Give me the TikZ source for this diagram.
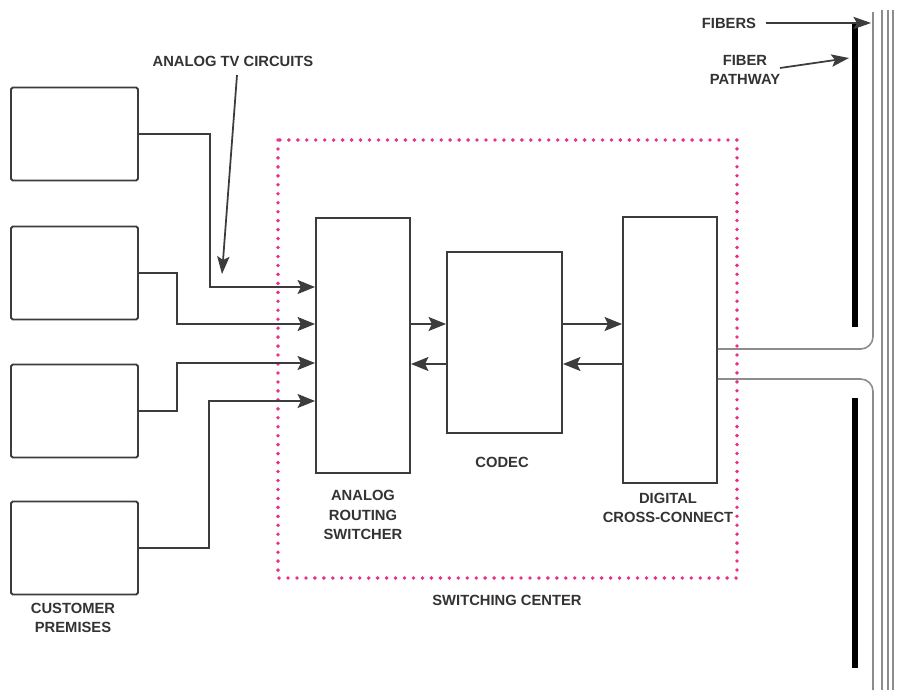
\documentclass[tikz,border=0pt]{standalone}
\usepackage{fontspec}
\setmainfont{Liberation Sans}
\usepackage{tikz}
\usetikzlibrary{arrows.meta}
\definecolor{linegray}{RGB}{60,60,60}
\definecolor{fibergray}{RGB}{140,140,140}
\definecolor{centerpink}{RGB}{232,48,138}
\tikzset{
  custbox/.style={draw=linegray, line width=1.1pt, rounded corners=1pt,
    minimum width=2.54cm, minimum height=1.86cm, inner sep=0pt},
  unitbox/.style={draw=linegray, line width=1.1pt, inner sep=0pt},
  lbl/.style={font=\fontsize{8.4}{11.2}\selectfont\bfseries,
    text=black!80, align=center, inner sep=1pt},
  feed/.style={draw=linegray, line width=1pt,
    -{Stealth[length=10pt,width=8pt,inset=2pt]}},
  wire/.style={draw=linegray, line width=1pt},
  pointer/.style={draw=linegray, line width=1pt,
    -{Stealth[length=10pt,width=7pt,inset=2pt]}},
  fiber/.style={draw=fibergray, line width=0.9pt},
  pathway/.style={draw=black, line width=3.4pt},
  centerline/.style={draw=centerpink, line width=2.2pt, line cap=round,
    dash pattern=on 0pt off 5.1pt},
}

\begin{document}
\begin{tikzpicture}[x=0.02cm, y=-0.02cm]
  \useasboundingbox (0,0) rectangle (911,690);

  % Switching center outline
  \draw[centerline] (278,140) rectangle (737,578);
  \node[lbl] (centerlabel) at (507,600) {SWITCHING CENTER};

  % Customer premises
  \node[custbox] (cust1) at (74.5,134) {};
  \node[custbox] (cust2) at (74.5,273) {};
  \node[custbox] (cust3) at (74.5,411) {};
  \node[custbox] (cust4) at (74.5,548) {};
  \node[lbl] (custlabel) at (73,618) {CUSTOMER\\PREMISES};

  % Switching equipment
  \node[unitbox, minimum width=1.88cm, minimum height=5.1cm]
    (router) at (363,345.5) {};
  \node[unitbox, minimum width=2.3cm, minimum height=3.62cm]
    (codec) at (504.5,342.5) {};
  \node[unitbox, minimum width=1.88cm, minimum height=5.32cm]
    (dcs) at (670,350) {};
  \node[lbl] (routerlabel) at (363,515) {ANALOG\\ROUTING\\SWITCHER};
  \node[lbl] (codeclabel) at (502,462) {CODEC};
  \node[lbl] (dcslabel) at (668,508) {DIGITAL\\CROSS-CONNECT};

  % Analog TV circuits into the router
  \draw[feed] (cust1.east) -| (210,287) -- (router.west |- 0,287);
  \draw[feed] (cust2.east) -| (177,324) -- (router.west |- 0,324);
  \draw[feed] (cust3.east) -| (177,363) -- (router.west |- 0,363);
  \draw[feed] (cust4.east) -| (209,401) -- (router.west |- 0,401);

  \node[lbl] (tvlabel) at (233,61) {ANALOG TV CIRCUITS};
  \coordinate (tvtip) at (222,274);
  \draw[pointer] (237,75) -- (tvtip);

  % Router <-> codec <-> cross-connect
  \draw[feed] (router.east |- 0,324) -- (codec.west |- 0,324);
  \draw[feed] (codec.west |- 0,364) -- (router.east |- 0,364);
  \draw[feed] (codec.east |- 0,324) -- (dcs.west |- 0,324);
  \draw[feed] (dcs.west |- 0,364) -- (codec.east |- 0,364);

  % Fibers
  \draw[fiber, rounded corners=7pt] (dcs.east |- 0,349) -| (873,12);
  \draw[fiber, rounded corners=7pt] (dcs.east |- 0,379) -| (873,690);
  \foreach \fx in {882,888,893}
    \draw[fiber] (\fx,10) -- (\fx,690);

  % Fiber pathway
  \draw[pathway] (855,22) -- (855,327);
  \draw[pathway] (855,398) -- (855,668);

  \node[lbl] (fiberslabel) at (729,23) {FIBERS};
  \coordinate (fibertip) at (871,23);
  \draw[pointer] (fiberslabel.east) ++(8,0) -- (fibertip);

  \node[lbl] (pathlabel) at (745,70) {FIBER\\PATHWAY};
  \coordinate (pathtip) at (849,58);
  \draw[pointer] (780,68) -- (pathtip);
\end{tikzpicture}
\end{document}
